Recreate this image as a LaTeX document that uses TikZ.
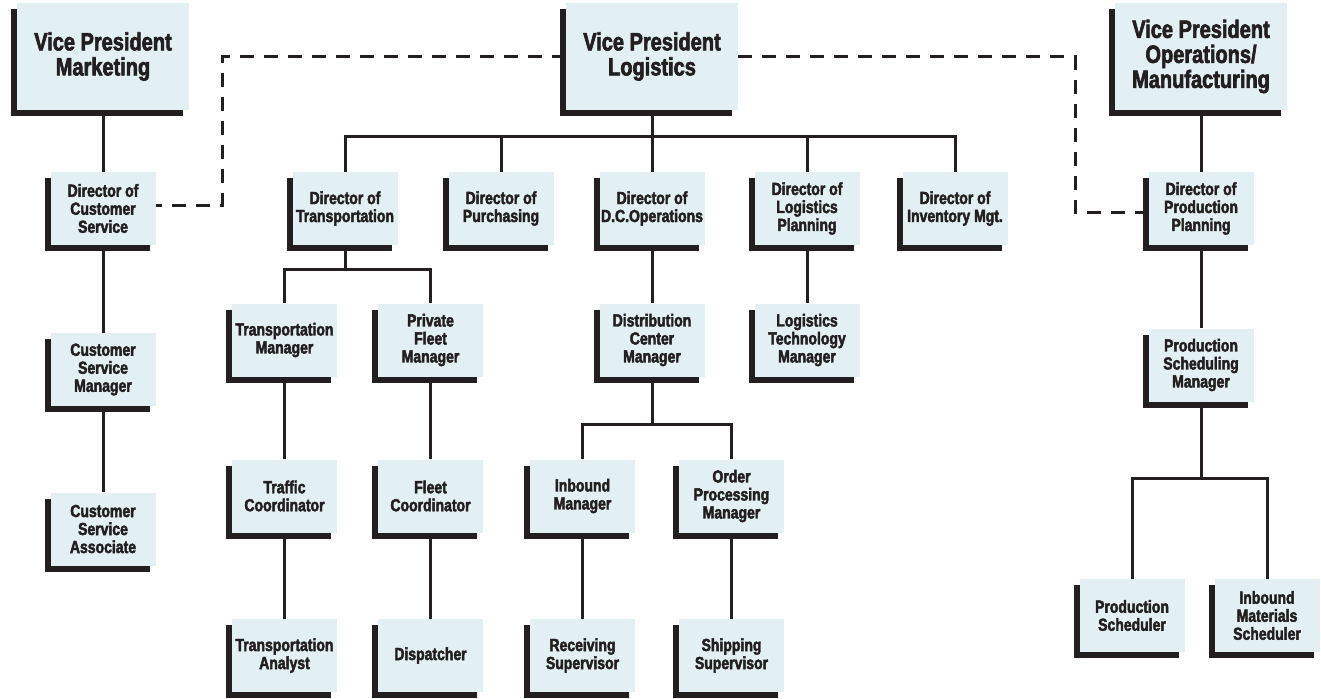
\documentclass[tikz,border=0pt]{standalone}
\usepackage{fontspec}
\newfontfamily\boxfont{Liberation Sans}[FakeStretch=0.8, BoldFeatures={FakeBold=2.5}]
\definecolor{boxfill}{HTML}{E2F0F3}
\definecolor{ink}{HTML}{231F20}
\begin{document}
\begin{tikzpicture}[x=1pt,y=-1pt,
  box/.style={fill=boxfill, draw=none, inner sep=0pt, align=center, text=ink,
     preaction={fill=ink, transform canvas={xshift=-6pt,yshift=-6pt}},
     font=\boxfont\bfseries\fontsize{17.5}{18}\selectfont,
     minimum width=105pt, minimum height=73pt},
  vpbox/.style={box, minimum width=172pt, minimum height=107pt,
     font=\boxfont\bfseries\fontsize{25}{25}\selectfont},
  conn/.style={draw=ink, line width=3pt},
  dashc/.style={conn, dash pattern=on 14pt off 10pt}]
\fill[white] (0,0) rectangle (1321,698);
\useasboundingbox (0,0) rectangle (1321,698);

% top row
\node[vpbox] (vpm) at (103,56.5) {Vice President\\Marketing};
\node[vpbox] (vpl) at (652,56.5) {Vice President\\Logistics};
\node[vpbox] (vpo) at (1201,56.5) {Vice President\\Operations/\\Manufacturing};

% directors
\node[box] (dcs) at (103,208.5) {Director of\\Customer\\Service};
\node[box] (dtr) at (345,208.5) {Director of\\Transportation};
\node[box] (dpu) at (501,208.5) {Director of\\Purchasing};
\node[box] (ddc) at (652,208.5) {Director of\\D.C.Operations};
\node[box] (dlp) at (807,208.5) {Director of\\Logistics\\Planning};
\node[box] (din) at (955,208.5) {Director of\\Inventory Mgt.};
\node[box] (dpp) at (1201,208.5) {Director of\\Production\\Planning};

% row 2
\node[box] (csm) at (103,369.5) {Customer\\Service\\Manager};
\node[box] (trm) at (284.5,340) {Transportation\\Manager};
\node[box] (pfm) at (430.5,340) {Private\\Fleet\\Manager};
\node[box] (dcm) at (652,340) {Distribution\\Center\\Manager};
\node[box] (ltm) at (807,340) {Logistics\\Technology\\Manager};
\node[box] (psm) at (1201,365) {Production\\Scheduling\\Manager};

% row 3
\node[box] (csa) at (103,529) {Customer\\Service\\Associate};
\node[box] (tco) at (284.5,496) {Traffic\\Coordinator};
\node[box] (fco) at (430.5,496) {Fleet\\Coordinator};
\node[box] (inm) at (582.5,496) {Inbound\\Manager};
\node[box] (opm) at (731.5,496) {Order\\Processing\\Manager};

% row 4
\node[box] (tan) at (284.5,655.5) {Transportation\\Analyst};
\node[box] (dis) at (430.5,655.5) {Dispatcher};
\node[box] (rsu) at (582.5,655.5) {Receiving\\Supervisor};
\node[box] (ssu) at (731.5,655.5) {Shipping\\Supervisor};
\node[box] (psc) at (1132,615.5) {Production\\Scheduler};
\node[box] (ims) at (1267,615.5) {Inbound\\Materials\\Scheduler};

% solid connectors
\draw[conn] (vpm.south) -- (dcs.north);
\draw[conn] (dcs.south) -- (csm.north);
\draw[conn] (csm.south) -- (csa.north);

\foreach \d in {dtr,dpu,ddc,dlp,din}
  \draw[conn] (vpl.south) -- ++(0,26) -| (\d.north);

\draw[conn] (dtr.south) -- ++(0,24) -| (trm.north);
\draw[conn] (dtr.south) -- ++(0,24) -| (pfm.north);
\draw[conn] (trm.south) -- (tco.north);
\draw[conn] (tco.south) -- (tan.north);
\draw[conn] (pfm.south) -- (fco.north);
\draw[conn] (fco.south) -- (dis.north);

\draw[conn] (ddc.south) -- (dcm.north);
\draw[conn] (dcm.south) -- ++(0,47.5) -| (inm.north);
\draw[conn] (dcm.south) -- ++(0,47.5) -| (opm.north);
\draw[conn] (inm.south) -- (rsu.north);
\draw[conn] (opm.south) -- (ssu.north);

\draw[conn] (dlp.south) -- (ltm.north);

\draw[conn] (vpo.south) -- (dpp.north);
\draw[conn] (dpp.south) -- (psm.north);
\draw[conn] (psm.south) -- ++(0,76.5) -| (psc.north);
\draw[conn] (psm.south) -- ++(0,76.5) -| (ims.north);

% dashed connectors
\coordinate (dl) at (222,205);
\coordinate (dr) at (1075,212);
\draw[dashc] (vpl.west) -| (dl) -- (dcs.east |- dl);
\draw[dashc] (vpl.east) -| (dr) -- (dpp.west |- dr);
\end{tikzpicture}
\end{document}
